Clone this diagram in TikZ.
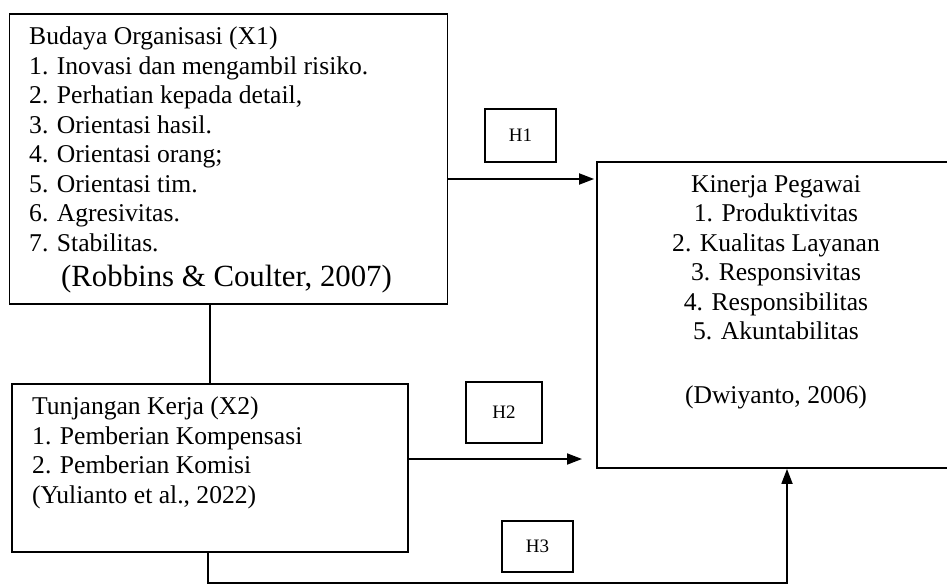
\documentclass[tikz,border=0pt]{standalone}
\usepackage{fontspec}
\setmainfont{Liberation Serif}
\usetikzlibrary{arrows.meta,positioning,calc}

\begin{document}
\begin{tikzpicture}[x=1pt, y=-1pt,
    box/.style={draw, line width=1.8pt, inner sep=0pt},
    txt/.style={inner sep=0pt, align=left, font=\fontsize{25.6}{29.5}\selectfont},
    hbox/.style={draw, line width=1.8pt, inner sep=0pt, font=\fontsize{19}{22}\selectfont},
    line/.style={line width=1.8pt},
    arr/.style={-{Triangle[length=15pt,width=11pt]}, line width=1.8pt}
]
\useasboundingbox (0,0) rectangle (947,585);

% variable boxes
\node[box, minimum width=438pt, minimum height=290pt] (budaya) at (228.5,159) {};
\node[box, minimum width=396pt, minimum height=168pt] (tunjangan) at (210,468) {};
\node[box, minimum width=358pt, minimum height=306pt] (kinerja) at (776,315) {};

\node[txt, anchor=north west] (budayatxt) at (29,27) {Budaya Organisasi (X1)\\1. Inovasi dan mengambil risiko.\\2. Perhatian kepada detail,\\3. Orientasi hasil.\\4. Orientasi orang;\\5. Orientasi tim.\\6. Agresivitas.\\7. Stabilitas.\\[6pt]{\fontsize{30.8}{35.5}\selectfont\hspace*{32pt}(Robbins \& Coulter, 2007)}};
\node[txt, anchor=north west] (tunjangantxt) at (32,397) {Tunjangan Kerja (X2)\\1. Pemberian Kompensasi\\2. Pemberian Komisi\\(Yulianto et al., 2022)};
\node[txt, align=center, anchor=north] (kinerjatxt) at (776,175) {Kinerja Pegawai\\1. Produktivitas\\2. Kualitas Layanan\\3. Responsivitas\\4. Responsibilitas\\5. Akuntabilitas\\[34pt](Dwiyanto, 2006)};

% hypothesis labels
\node[hbox, minimum width=71pt, minimum height=53pt] (h1) at (520.5,135.5) {H1};
\node[hbox, minimum width=76pt, minimum height=61pt] (h2) at (504,412.5) {H2};
\node[hbox, minimum width=71pt, minimum height=51pt] (h3) at (537.5,546.5) {H3};

% connectors
\coordinate (j1) at (210,0);
\coordinate (a1) at (0,179);
\coordinate (a2) at (582,459);
\coordinate (b1) at (208,583);
\coordinate (b2) at (787,583);
\draw[line] (j1 |- budaya.south) -- (j1 |- tunjangan.north);
\draw[arr] (budaya.east |- a1) -- ($(kinerja.west |- a1)+(-2,0)$);
\draw[arr] (tunjangan.east |- a2) -- (a2);
\draw[arr] (tunjangan.south -| b1) -- (b1) -- (b2) -- (kinerja.south -| b2);
\end{tikzpicture}
\end{document}
